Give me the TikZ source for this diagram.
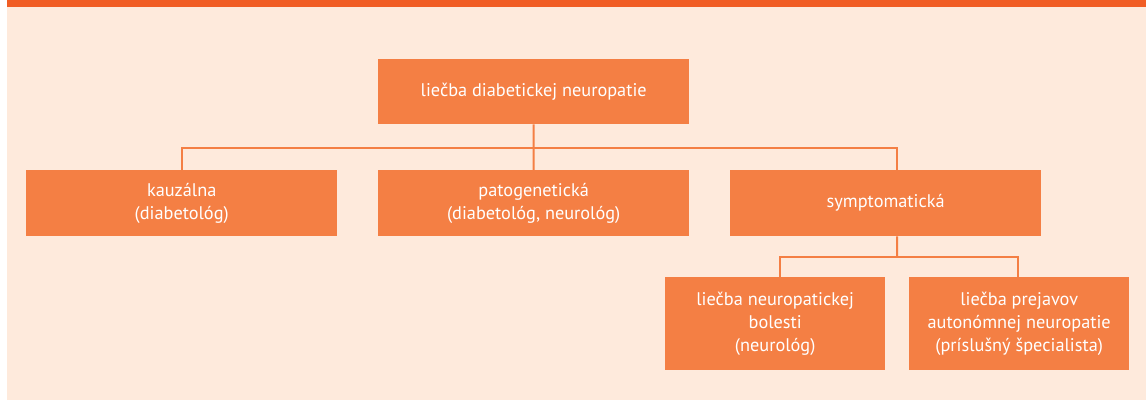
\documentclass[tikz,border=0pt]{standalone}
\usepackage{fontspec}
\setmainfont{PT Sans}
\definecolor{boxfill}{HTML}{F47F44}
\definecolor{topbar}{HTML}{F15D24}
\definecolor{bgpeach}{HTML}{FEEADC}
\begin{document}
\begin{tikzpicture}[x=1pt,y=-1pt,
  obox/.style={fill=boxfill,draw=none,anchor=north west,inner sep=0pt,
    text=white,align=center,font=\fontsize{18.3}{23}\selectfont},
  conn/.style={draw=boxfill,line width=2pt}]
\useasboundingbox (0,0) rectangle (1146,400);
\fill[bgpeach] (7,7) rectangle (1146,400);
\fill[topbar] (7,0) rectangle (1146,7);
\node[obox,minimum width=311pt,minimum height=65pt] (root) at (378,59) {liečba diabetickej neuropatie};
\node[obox,minimum width=311pt,minimum height=66pt] (kauz) at (26,170) {kauzálna\\(diabetológ)};
\node[obox,minimum width=311pt,minimum height=66pt] (pato) at (378,170) {patogenetická\\(diabetológ, neurológ)};
\node[obox,minimum width=311pt,minimum height=66pt] (symp) at (730,170) {symptomatická};
\node[obox,minimum width=220pt,minimum height=93pt] (bol) at (665,277) {liečba neuropatickej\\bolesti\\(neurológ)};
\node[obox,minimum width=220pt,minimum height=93pt] (auto) at (909,277) {liečba prejavov\\autonómnej neuropatie\\(príslušný špecialista)};
\coordinate (h1) at (533.5,148);
\coordinate (h2) at (897,257);
\draw[conn] (root.south) -- (h1);
\draw[conn] (h1) -- (pato.north);
\draw[conn] (h1) -| (kauz.north);
\draw[conn] (h1) -| ([xshift=11.5pt]symp.north);
\draw[conn] ([xshift=11.5pt]symp.south) -- (h2);
\draw[conn] (h2) -| ([xshift=5pt]bol.north);
\draw[conn] (h2) -| ([xshift=-1pt]auto.north);
\end{tikzpicture}
\end{document}
